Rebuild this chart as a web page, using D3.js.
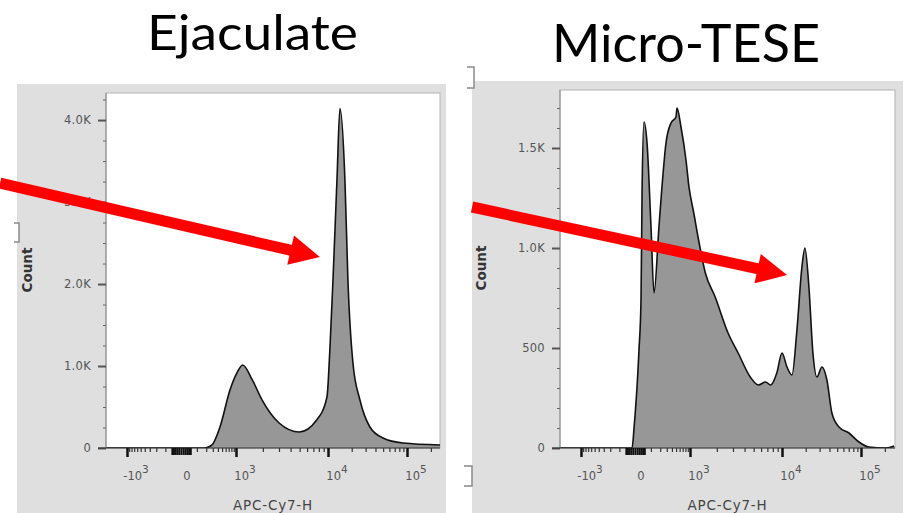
<!DOCTYPE html>
<html>
<head>
<meta charset="utf-8">
<script src="https://cdn.jsdelivr.net/npm/d3@7"></script>
<style>
  body { margin: 0; background: #fff; }
  svg { display: block; }
</style>
</head>
<body>
<div id="chart"></div>
<script>
(function (d3) {
  'use strict';

  const width = 910;
  const height = 513;

  // histogram: APC-Cy7-H value, event count
  const ejaculateValues = [-2690, -1000, 0, 184, 286, 447, 746, 1025, 1191, 1530, 1966, 3010, 4960, 7590, 9750,
    10600, 11570, 13000, 14180, 16410, 17910, 20730, 25430, 34000, 49700, 88900, 262000];
  const ejaculateCounts = [0, 0, 0, 0, 37, 256, 707, 915, 1012, 830, 585, 305, 195, 341, 622,
    1232, 2049, 3268, 4140, 3268, 2049, 1037, 585, 256, 122, 61, 37];

  const teseValues = [-2690, -14, -4, 19, 30, 36, 48, 69, 101, 129, 184, 224, 286, 380, 497, 524, 643, 823, 952,
    1105, 1253, 1493, 1918, 2652, 3410, 4600, 5620, 6700, 7590, 8810, 10000, 11570, 13390, 15480, 17910,
    19550, 21960, 24690, 27730, 32100, 37100, 42900, 52700, 70500, 94300, 126300, 207000, 262000];
  const teseCounts = [0, 0, 105, 490, 740, 1275, 1630, 1525, 1105, 775, 1105, 1305, 1525, 1625, 1655, 1700, 1605, 1440, 1305,
    1175, 1040, 875, 755, 575, 475, 355, 315, 330, 315, 375, 475, 405, 365, 590, 905,
    1000, 805, 475, 355, 405, 340, 175, 105, 75, 30, 5, 0, 10];

  const ejaculateYTicks = [0, 1000, 2000, 3000, 4000];
  const ejaculateYLabels = ['0', '1.0K', '2.0K', '3.0K', '4.0K'];
  const teseYTicks = [0, 500, 1000, 1500];
  const teseYLabels = ['0', '500', '1.0K', '1.5K'];

  const xMajorTicks = [-1000, 0, 1000, 10000, 100000];
  const xTickBase = ['-10', '0', '10', '10', '10'];
  const xTickExp = ['3', '', '3', '4', '5'];

  // red arrows: tail value, tail count, tip value, tip count
  const ejaculateArrow = [-309000, 3230, 8200, 2330];
  const teseArrow = [-138600, 1205, 11570, 865];

  // biexponential-ish display transform
  const g = (v) => Math.sign(v) * Math.log10(1 + Math.abs(v) / 100);

  const xMinor = [];
  [100, 1000, 10000].forEach((dec) => {
    for (let k = 2; k <= 9; k++) xMinor.push(k * dec);
  });
  for (let k = 1; k <= 9; k++) xMinor.push(-k * 100);
  xMinor.push(100, 200000);
  const xZero = [-50, -40, -30, -20, -10, 0, 10, 20, 30, 40, 50];

  const svg = d3.select('#chart')
    .append('svg')
    .attr('width', width)
    .attr('height', height);

  const panels = [
    {
      title: 'Ejaculate', titleX: 252.5, titleY: 50, titleSize: 49, titleWidth: 211,
      grey: { x: 17, y: 84, w: 429, h: 429 },
      plot: { x: 106, y: 93, w: 334, h: 355 },
      yMax: 4330, yTicks: ejaculateYTicks, yLabels: ejaculateYLabels, yMinorStep: 250,
      values: ejaculateValues, counts: ejaculateCounts, arrow: ejaculateArrow, countY: 270
    },
    {
      title: 'Micro-TESE', titleX: 686, titleY: 62, titleSize: 53, titleWidth: 268,
      grey: { x: 472, y: 81, w: 431, h: 432 },
      plot: { x: 560, y: 90, w: 335, h: 358 },
      yMax: 1790, yTicks: teseYTicks, yLabels: teseYLabels, yMinorStep: 100,
      values: teseValues, counts: teseCounts, arrow: teseArrow, countY: 268
    }
  ];

  const xOffsets = [21, 75, 130, 222, 301];

  panels.forEach((p, pi) => {
    const plot = p.plot;
    const base = plot.y + plot.h;

    svg.append('rect')
      .attr('x', p.grey.x).attr('y', p.grey.y)
      .attr('width', p.grey.w).attr('height', p.grey.h)
      .attr('fill', '#dfdfdf');

    const x = d3.scaleLinear()
      .domain(xMajorTicks.map(g))
      .range(xOffsets.map((o) => plot.x + o));
    const y = d3.scaleLinear()
      .domain([0, p.yMax])
      .range([base, plot.y]);

    svg.append('rect')
      .attr('x', plot.x).attr('y', plot.y)
      .attr('width', plot.w).attr('height', plot.h)
      .attr('fill', '#fff')
      .attr('stroke', '#b4b4b4')
      .attr('stroke-width', 1);

    svg.append('clipPath').attr('id', 'clip' + pi)
      .append('rect')
      .attr('x', plot.x).attr('y', plot.y - 2)
      .attr('width', plot.w).attr('height', plot.h + 2);

    const rows = d3.zip(p.values, p.counts);
    const area = d3.area()
      .x((d) => x(g(d[0])))
      .y0(base)
      .y1((d) => y(d[1]))
      .curve(d3.curveMonotoneX);
    const line = area.lineY1();

    const hist = svg.append('g').attr('clip-path', 'url(#clip' + pi + ')');
    hist.append('path').datum(rows).attr('d', area).attr('fill', '#979797');
    hist.append('path').datum(rows).attr('d', line)
      .attr('fill', 'none').attr('stroke', '#111').attr('stroke-width', 1.6);

    // y axis
    svg.append('line')
      .attr('x1', plot.x).attr('x2', plot.x)
      .attr('y1', plot.y).attr('y2', base)
      .attr('stroke', '#888');

    const yMinor = d3.range(0, p.yMax, p.yMinorStep).filter((v) => p.yTicks.indexOf(v) < 0);
    const yMinorAxis = svg.append('g')
      .attr('transform', `translate(${plot.x},0)`)
      .call(d3.axisLeft(y).tickValues(yMinor).tickSize(3).tickFormat(''));
    yMinorAxis.select('.domain').remove();
    yMinorAxis.selectAll('line').attr('stroke', '#666');

    const yAxis = svg.append('g')
      .attr('transform', `translate(${plot.x},0)`)
      .call(d3.axisLeft(y).tickValues(p.yTicks).tickSize(8).tickPadding(7)
        .tickFormat((d, i) => p.yLabels[i]));
    yAxis.select('.domain').remove();
    yAxis.selectAll('line').attr('stroke', '#555').attr('stroke-width', 2);
    yAxis.selectAll('text')
      .attr('fill', '#555')
      .style('font-family', '"DejaVu Sans", sans-serif')
      .style('font-size', '11.5px')
      .style('letter-spacing', '0.3px');

    // x axis
    svg.append('line')
      .attr('x1', plot.x - 8).attr('x2', plot.x + plot.w)
      .attr('y1', base).attr('y2', base)
      .attr('stroke', '#333').attr('stroke-width', 1.2);

    const xAxisG = svg.append('g').attr('transform', `translate(0,${base})`);
    const minorAxis = xAxisG.append('g')
      .call(d3.axisBottom(x).tickValues(xMinor.map(g)).tickSize(4).tickFormat(''));
    minorAxis.selectAll('line').attr('stroke', '#333').attr('stroke-width', 1.2);
    const zeroAxis = xAxisG.append('g')
      .call(d3.axisBottom(x).tickValues(xZero.map(g)).tickSize(7).tickFormat(''));
    zeroAxis.selectAll('line').attr('stroke', '#111').attr('stroke-width', 2);
    const majorAxis = xAxisG.append('g')
      .call(d3.axisBottom(x).tickValues(xMajorTicks.filter((v) => v !== 0).map(g)).tickSize(9).tickFormat(''));
    majorAxis.selectAll('line').attr('stroke', '#111').attr('stroke-width', 2.5);
    xAxisG.selectAll('.domain').remove();

    xMajorTicks.forEach((v, i) => {
      const t = svg.append('text')
        .attr('x', x(g(v)) + (v === 0 ? 6 : 9))
        .attr('y', base + 32)
        .attr('text-anchor', 'middle')
        .attr('fill', '#555')
        .style('font-family', '"DejaVu Sans", sans-serif')
        .style('font-size', '11.5px');
      t.append('tspan').text(xTickBase[i]);
      if (xTickExp[i]) {
        t.append('tspan').attr('dy', -7).style('font-size', '10.5px').text(xTickExp[i]);
      }
    });

    svg.append('text')
      .attr('x', plot.x + plot.w / 2)
      .attr('y', 510)
      .attr('text-anchor', 'middle')
      .attr('fill', '#444')
      .style('font-family', '"DejaVu Sans", sans-serif')
      .style('font-size', '13.5px')
      .style('letter-spacing', '0.8px')
      .text('APC-Cy7-H');

    svg.append('text')
      .attr('transform', `translate(${plot.x - 74},${p.countY}) rotate(-90)`)
      .attr('text-anchor', 'middle')
      .attr('fill', '#333')
      .style('font-family', '"DejaVu Sans", sans-serif')
      .style('font-weight', 'bold')
      .style('font-size', '13.5px')
      .text('Count');

    svg.append('text')
      .attr('x', p.titleX)
      .attr('y', p.titleY)
      .attr('text-anchor', 'middle')
      .attr('textLength', p.titleWidth)
      .attr('lengthAdjust', 'spacingAndGlyphs')
      .style('font-family', 'Lato, "Open Sans", sans-serif')
      .style('font-size', p.titleSize + 'px')
      .attr('fill', '#000')
      .text(p.title);

    // red arrow
    const [tv, tc, pv, pc] = p.arrow;
    const tx = x(g(tv)), ty = y(tc);
    const px = x(g(pv)), py = y(pc);
    const len = Math.hypot(px - tx, py - ty);
    const ux = (px - tx) / len, uy = (py - ty) / len;
    const headL = 30, headW = 15;
    const bx = px - ux * headL, by = py - uy * headL;
    svg.append('line')
      .attr('x1', tx).attr('y1', ty)
      .attr('x2', bx + ux * 2).attr('y2', by + uy * 2)
      .attr('stroke', '#ff0000').attr('stroke-width', 11);
    svg.append('path')
      .attr('d', `M${px},${py}L${bx - uy * headW},${by + ux * headW}L${bx + uy * headW},${by - ux * headW}Z`)
      .attr('fill', '#ff0000');
  });

  // little "]" handles left over from the screenshot
  const handles = [[14, 223, 5, 19], [467, 67, 7, 21], [464, 466, 8, 20]];
  handles.forEach(([hx, hy, hw, hh]) => {
    svg.append('rect').attr('x', hx - 2).attr('y', hy).attr('width', hw + 2).attr('height', hh).attr('fill', '#fff');
    svg.append('path')
      .attr('d', `M${hx},${hy}H${hx + hw}V${hy + hh}H${hx}`)
      .attr('fill', 'none').attr('stroke', '#8a8a8a').attr('stroke-width', 1.5);
  });

}(d3));
</script>
</body>
</html>
